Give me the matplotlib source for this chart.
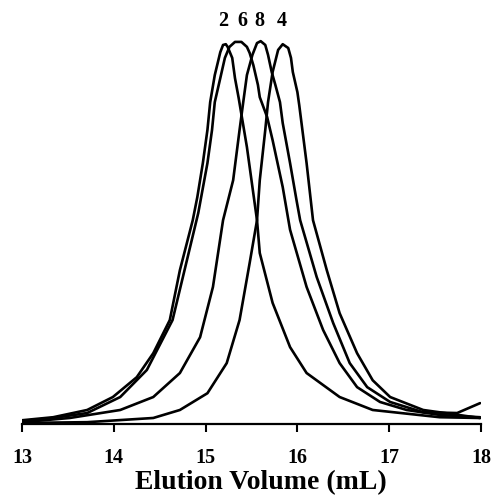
import matplotlib
matplotlib.use("Agg")
import matplotlib.pyplot as plt

# Elution profiles (volume in mL, normalised detector signal)
vol_2 = [13.0, 13.34, 13.71, 13.99, 14.25, 14.43, 14.61, 14.72, 14.86, 14.91, 14.97, 15.02,
         15.05, 15.10, 15.16, 15.19, 15.22, 15.24, 15.29, 15.32, 15.36, 15.45, 15.56, 15.59,
         15.73, 15.92, 16.10, 16.46, 16.82, 17.55, 17.99]
sig_2 = [0.010, 0.018, 0.037, 0.071, 0.123, 0.186, 0.273, 0.404, 0.535, 0.596, 0.685, 0.772,
         0.845, 0.916, 0.976, 0.995, 0.997, 0.990, 0.961, 0.908, 0.856, 0.727, 0.535, 0.449,
         0.318, 0.202, 0.134, 0.071, 0.037, 0.018, 0.016]

vol_6 = [13.0, 13.34, 13.71, 14.07, 14.36, 14.64, 14.92, 15.02, 15.07, 15.10, 15.16, 15.21,
         15.26, 15.32, 15.39, 15.45, 15.48, 15.52, 15.57, 15.59, 15.67, 15.73, 15.84, 15.92,
         16.10, 16.28, 16.46, 16.65, 16.90, 17.19, 17.55, 17.99]
sig_6 = [0.008, 0.016, 0.029, 0.071, 0.142, 0.273, 0.554, 0.685, 0.772, 0.845, 0.908, 0.961,
         0.990, 1.003, 1.003, 0.990, 0.974, 0.942, 0.890, 0.858, 0.806, 0.745, 0.622, 0.510,
         0.360, 0.247, 0.160, 0.097, 0.058, 0.037, 0.024, 0.018]

vol_8 = [13.0, 13.52, 14.07, 14.43, 14.72, 14.94, 15.08, 15.19, 15.30, 15.37, 15.41, 15.45,
         15.51, 15.56, 15.60, 15.65, 15.68, 15.72, 15.76, 15.81, 15.84, 15.92, 15.99, 16.03,
         16.21, 16.39, 16.57, 16.76, 17.01, 17.37, 17.74, 17.99]
sig_8 = [0.005, 0.016, 0.037, 0.071, 0.134, 0.228, 0.360, 0.535, 0.640, 0.772, 0.845, 0.916,
         0.969, 1.000, 1.005, 0.995, 0.969, 0.924, 0.890, 0.845, 0.790, 0.685, 0.588, 0.535,
         0.386, 0.265, 0.160, 0.097, 0.058, 0.031, 0.029, 0.055]

vol_4 = [13.0, 13.71, 14.43, 14.72, 15.02, 15.23, 15.37, 15.48, 15.56, 15.59, 15.65, 15.68,
         15.73, 15.79, 15.84, 15.90, 15.93, 15.95, 16.00, 16.02, 16.10, 16.17, 16.32, 16.46,
         16.65, 16.82, 17.01, 17.37, 17.99]
sig_4 = [0.003, 0.005, 0.016, 0.037, 0.081, 0.160, 0.273, 0.423, 0.535, 0.640, 0.772, 0.845,
         0.924, 0.982, 0.997, 0.987, 0.961, 0.924, 0.871, 0.837, 0.685, 0.535, 0.404, 0.291,
         0.186, 0.115, 0.071, 0.037, 0.016]

peak_labels = ["2", "6", "8", "4"]
label_pos = [15.19, 15.40, 15.59, 15.83]

plt.rcParams["font.family"] = ["Liberation Serif", "DejaVu Serif"]
plt.rcParams["font.weight"] = "bold"

fig = plt.figure(figsize=(4.93, 4.96), dpi=100)
ax = fig.add_axes([0.0446, 0.145, 0.9311, 0.845])

for v, s in [(vol_2, sig_2), (vol_6, sig_6), (vol_8, sig_8), (vol_4, sig_4)]:
    ax.plot(v, s, color="black", lw=1.9, solid_joinstyle="round", solid_capstyle="round")

for lab, xp in zip(peak_labels, label_pos):
    ax.text(xp, 1.058, lab, ha="center", va="center", fontsize=14.5, fontweight="bold")

ax.set_xlim(13, 18)
ax.set_ylim(0, 1.10)
for side in ["top", "right", "left"]:
    ax.spines[side].set_visible(False)
ax.spines["bottom"].set_linewidth(1.6)
ax.set_yticks([])
ax.set_xticks([13, 14, 15, 16, 17, 18])
ax.tick_params(axis="x", direction="out", length=6, width=1.5, pad=11, labelsize=14.5)
for t in ax.get_xticklabels():
    t.set_fontweight("bold")
ax.set_xlabel("Elution Volume (mL)", fontsize=20, fontweight="bold", labelpad=2, x=0.52)

fig.savefig("out.png", dpi=100)
